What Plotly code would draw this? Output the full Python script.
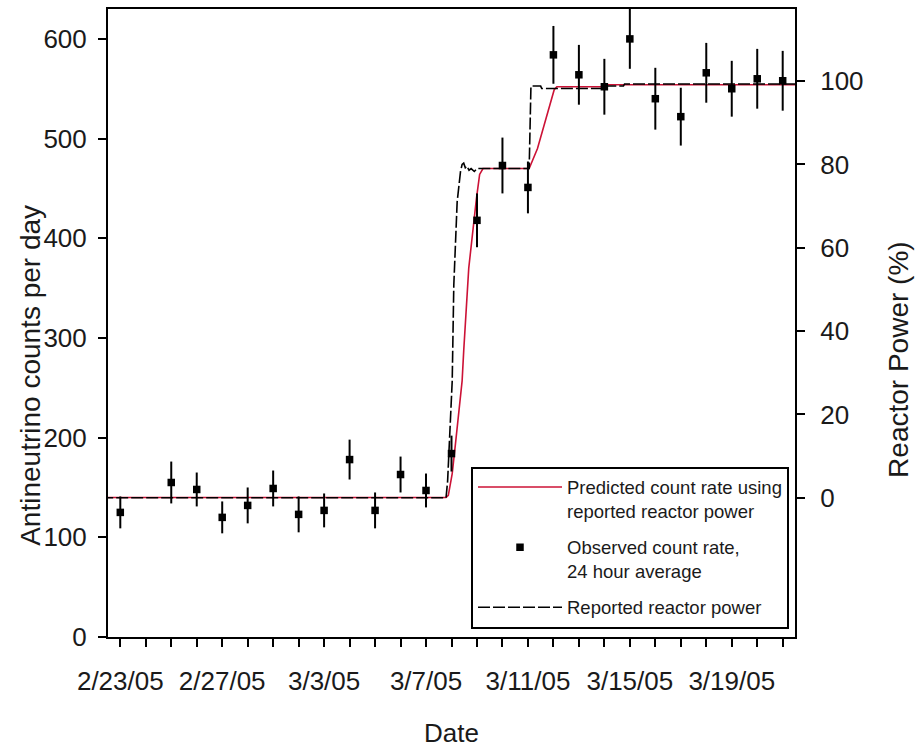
import plotly.graph_objects as go

# ---- Observed 24-hour average count rate ----
obs_dates = ["2005-02-23", "2005-02-25", "2005-02-26", "2005-02-27", "2005-02-28",
             "2005-03-01", "2005-03-02", "2005-03-03", "2005-03-04", "2005-03-05",
             "2005-03-06", "2005-03-07", "2005-03-08", "2005-03-09", "2005-03-10",
             "2005-03-11", "2005-03-12", "2005-03-13", "2005-03-14", "2005-03-15",
             "2005-03-16", "2005-03-17", "2005-03-18", "2005-03-19", "2005-03-20",
             "2005-03-21"]
obs_counts = [125, 155, 148, 120, 132, 149, 123, 127, 178, 127,
              163, 147, 184, 418, 473, 451, 584, 564, 552, 600,
              540, 522, 566, 550, 560, 558]
obs_err = [16, 21, 17, 16, 18, 18, 18, 17, 20, 18,
           18, 17, 18, 27, 28, 26, 29, 30, 28, 30,
           31, 29, 30, 28, 30, 30]

# ---- Predicted count rate using reported reactor power ----
pred_dates = ["2005-02-22 06:00", "2005-03-07 18:52", "2005-03-07 21:00", "2005-03-08 00:40",
              "2005-03-08 03:45", "2005-03-08 06:50", "2005-03-08 10:00", "2005-03-08 11:30",
              "2005-03-08 16:15", "2005-03-08 23:30", "2005-03-09 02:30", "2005-03-09 05:40",
              "2005-03-11 01:10", "2005-03-11 09:00", "2005-03-11 18:30", "2005-03-12 00:45",
              "2005-03-12 03:15", "2005-03-13 22:00", "2005-03-14 00:00", "2005-03-21 18:00"]
pred_counts = [140, 140, 142, 164, 194, 224, 257, 287, 370, 440, 464, 470,
               470, 490, 527, 549, 552, 552, 554, 554]

# ---- Reported reactor power (%) ----
power_dates = ["2005-02-22 06:00", "2005-03-07 18:52", "2005-03-07 20:20", "2005-03-07 23:00",
               "2005-03-08 00:40", "2005-03-08 02:10", "2005-03-08 05:20", "2005-03-08 08:30",
               "2005-03-08 10:00", "2005-03-08 11:30", "2005-03-08 13:00", "2005-03-08 14:30",
               "2005-03-08 16:30", "2005-03-08 18:30", "2005-03-08 21:30", "2005-03-09 00:00",
               "2005-03-11 01:10", "2005-03-11 02:50", "2005-03-11 12:00", "2005-03-11 13:00",
               "2005-03-13 22:00", "2005-03-13 23:00", "2005-03-14 18:00", "2005-03-14 19:00",
               "2005-03-21 18:00"]
power_pct = [0, 0, 4, 18.5, 28, 51, 71, 78.3, 80, 80.3, 79.2, 79.6, 78.6, 79.0, 78.3, 79.0,
             79.0, 98.8, 98.8, 98.2, 98.2, 98.8, 98.8, 99.3, 99.3]

tick_dates = ["2005-02-23", "2005-02-27", "2005-03-03", "2005-03-07",
              "2005-03-11", "2005-03-15", "2005-03-19"]
tick_labels = ["2/23/05", "2/27/05", "3/3/05", "3/7/05",
               "3/11/05", "3/15/05", "3/19/05"]

FONT = "Liberation Sans, Arial, Helvetica, sans-serif"
TXT = "#1a1a1a"

fig = go.Figure()
fig.add_trace(go.Scatter(
    x=pred_dates, y=pred_counts, mode="lines", legendgroup="a",
    line=dict(color="#cc1236", width=1.6),
    name="Predicted count rate using<br>reported reactor power"))
fig.add_trace(go.Scatter(
    x=obs_dates, y=obs_counts, mode="markers", legendgroup="b",
    marker=dict(symbol="square", size=7.5, color="black"),
    error_y=dict(type="data", array=obs_err, visible=True, color="black",
                 thickness=2, width=0),
    name="Observed count rate,<br>24 hour average"))
fig.add_trace(go.Scatter(
    x=power_dates, y=power_pct, mode="lines", yaxis="y2", legendgroup="c",
    line=dict(color="black", width=1.6, dash="12px,3px"),
    name="Reported reactor power"))

y_top = 630
y2_lo = -139.7 / 4.18
y2_hi = (y_top - 139.7) / 4.18

fig.update_layout(
    width=917, height=751,
    margin=dict(l=108, r=122, t=7, b=114),
    paper_bgcolor="white", plot_bgcolor="white",
    font=dict(family=FONT, color=TXT),
    showlegend=True,
    legend=dict(
        x=(471 - 108) / 687, y=(637 - 466) / 630, xanchor="left", yanchor="top",
        bordercolor="black", borderwidth=2, bgcolor="white",
        font=dict(family=FONT, size=18.5, color=TXT),
        valign="top", itemwidth=84, tracegroupgap=9,
    ),
    xaxis=dict(
        type="date", range=["2005-02-22 12:25", "2005-03-21 11:35"],
        showline=True, linecolor="black", linewidth=2, mirror=True,
        ticks="outside", ticklen=8, tickwidth=2, tickcolor="black",
        tickvals=tick_dates, ticktext=tick_labels, tickangle=0,
        tickfont=dict(family=FONT, size=26, color=TXT),
        ticklabelstandoff=12,
        minor=dict(ticks="outside", dtick=86400000, tick0="2005-02-23",
                   ticklen=8, tickwidth=2, tickcolor="black"),
        showgrid=False, zeroline=False,
    ),
    yaxis=dict(
        range=[0, y_top], tickvals=[0, 100, 200, 300, 400, 500, 600],
        showline=True, linecolor="black", linewidth=2,
        ticks="outside", ticklen=8, tickwidth=2, tickcolor="black",
        tickfont=dict(family=FONT, size=26, color=TXT),
        ticklabelstandoff=6,
        showgrid=False, zeroline=False,
    ),
    yaxis2=dict(
        range=[y2_lo, y2_hi], tickvals=[0, 20, 40, 60, 80, 100],
        overlaying="y", side="right", anchor="x",
        showline=True, linecolor="black", linewidth=2,
        ticks="outside", ticklen=8, tickwidth=2, tickcolor="black",
        tickfont=dict(family=FONT, size=26, color=TXT),
        ticklabelstandoff=10,
        showgrid=False, zeroline=False,
    ),
    annotations=[
        dict(text="Antineutrino counts per day", textangle=-90,
             xref="paper", yref="paper", x=(31 - 108) / 687, y=(637 - 375) / 630,
             xanchor="center", yanchor="middle", showarrow=False,
             font=dict(family=FONT, size=28, color=TXT)),
        dict(text="Reactor Power (%)", textangle=-90,
             xref="paper", yref="paper", x=(899 - 108) / 687, y=(637 - 359) / 630,
             xanchor="center", yanchor="middle", showarrow=False,
             font=dict(family=FONT, size=28, color=TXT)),
        dict(text="Date",
             xref="paper", yref="paper", x=(451 - 108) / 687, y=(637 - 733) / 630,
             xanchor="center", yanchor="middle", showarrow=False,
             font=dict(family=FONT, size=26, color=TXT)),
    ],
)

fig.write_html("out.html")
